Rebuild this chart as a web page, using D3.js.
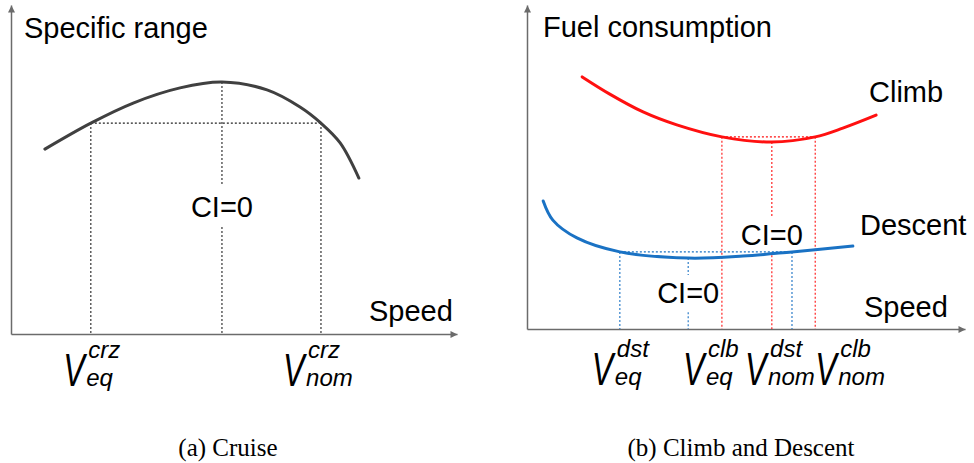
<!DOCTYPE html>
<html>
<head>
<meta charset="utf-8">
<script src="https://cdn.jsdelivr.net/npm/d3@7"></script>
<style>
  body { margin: 0; background: #fff; }
  text { font-family: "Liberation Sans", Arial, sans-serif; fill: #000; }
  .cap { font-family: "Liberation Serif", "Times New Roman", serif; }
</style>
</head>
<body>
<svg id="fig" width="974" height="463"></svg>
<script>
// ---- data (speed / value in arbitrary units 0..10) ----
const cruiseSpeed = [0.76, 1.79, 2.74, 3.79, 4.73, 5.74, 6.48, 6.95, 7.38, 7.80];
const cruiseRange = [5.62, 6.41, 7.02, 7.48, 7.66, 7.42, 6.90, 6.41, 5.81, 4.74];

const climbSpeed = [1.26, 1.89, 2.65, 3.42, 4.45, 5.59, 6.58, 7.21, 7.97];
const climbFuel  = [7.78, 7.25, 6.70, 6.30, 5.93, 5.77, 5.93, 6.20, 6.60];

const descentSpeed = [0.37, 0.59, 1.14, 2.12, 3.68, 4.93, 6.05, 7.44];
const descentFuel  = [3.95, 3.36, 2.81, 2.38, 2.19, 2.25, 2.38, 2.56];

// reference speeds: [V_eq, CI=0, V_nom] and the curve value at each
const cruiseRefSpeed  = [1.79, 4.73, 6.95];
const cruiseRefLevel  = [6.41, 7.66, 6.41];
const climbRefSpeed   = [4.45, 5.59, 6.58];
const climbRefLevel   = [5.93, 5.77, 5.93];
const descentRefSpeed = [2.12, 3.68, 6.05];
const descentRefLevel = [2.38, 2.19, 2.38];

// "CI=0" label: value of label centre, and gap cut in the dotted line
const cruiseCI  = {at: 3.86, gap: [3.25, 4.53]};
const climbCI   = {at: 2.90, gap: [2.28, 3.46]};
const descentCI = {at: 1.11, gap: [0.52, 1.67]};

// speed labels under the axes: [superscript, subscript, left edge speed]
const cruiseTicks = [["crz", "eq", 1.17], ["crz", "nom", 6.10]];
const climbDescentTicks = [["dst", "eq", 1.48], ["clb", "eq", 3.56], ["dst", "nom", 4.98], ["clb", "nom", 6.58]];

const captions = ["(a) Cruise", "(b) Climb and Descent"];

// ---- setup ----
const svg = d3.select("#fig");
const axisCol = "#6b6b6b";
const red = "#ff1010", blue = "#1a72c4";

svg.append("defs").append("marker")
    .attr("id", "arrow")
    .attr("markerUnits", "userSpaceOnUse")
    .attr("viewBox", "0 0 10 10")
    .attr("refX", 10).attr("refY", 5)
    .attr("markerWidth", 8).attr("markerHeight", 7)
    .attr("orient", "auto")
  .append("path")
    .attr("d", "M0,0 L10,5 L0,10 z")
    .attr("fill", axisCol);

const line = d3.line().curve(d3.curveCatmullRom.alpha(0.5));

function panel(xr, yr) {
  const x = d3.scaleLinear().domain([0, 10]).range(xr);
  const y = d3.scaleLinear().domain([0, 10]).range(yr);
  const g = svg.append("g");

  g.append("g")
    .attr("transform", `translate(0,${yr[0]})`)
    .call(d3.axisBottom(x).tickValues([]).tickSizeOuter(0))
    .select(".domain")
      .attr("stroke", axisCol).attr("stroke-width", 1.5)
      .attr("marker-end", "url(#arrow)");

  g.append("g")
    .attr("transform", `translate(${xr[0]},0)`)
    .call(d3.axisLeft(y).tickValues([]).tickSizeOuter(0))
    .select(".domain")
      .attr("stroke", axisCol).attr("stroke-width", 1.5)
      .attr("marker-end", "url(#arrow)");

  return {x, y, g};
}

function refLines(p, speeds, levels, ci, col) {
  const dot = (x1, y1, x2, y2) => p.g.append("line")
    .attr("x1", p.x(x1)).attr("y1", p.y(y1))
    .attr("x2", p.x(x2)).attr("y2", p.y(y2))
    .attr("stroke", col).attr("stroke-width", 1.1)
    .attr("stroke-dasharray", "2,2");

  dot(speeds[0], levels[0], speeds[2], levels[2]);
  dot(speeds[0], levels[0], speeds[0], 0);
  dot(speeds[2], levels[2], speeds[2], 0);
  // CI=0 line, cut around its label
  dot(speeds[1], levels[1], speeds[1], ci.gap[1]);
  dot(speeds[1], ci.gap[0], speeds[1], 0);

  p.g.append("text")
    .attr("x", p.x(speeds[1])).attr("y", p.y(ci.at))
    .attr("text-anchor", "middle").attr("dominant-baseline", "central")
    .attr("font-size", 29)
    .text("CI=0");
}

function curve(p, xs, ys, col) {
  p.g.append("path")
    .datum(xs.map((d, i) => [p.x(d), p.y(ys[i])]))
    .attr("d", line)
    .attr("fill", "none")
    .attr("stroke", col).attr("stroke-width", 3)
    .attr("stroke-linecap", "round");
}

// narrow italic V, then stacked super/subscript beside it
function speedLabels(p, ticks, base) {
  ticks.forEach(([sup, sub, s]) => {
    const x0 = p.x(s);
    p.g.append("text")
      .attr("transform", `translate(${x0},${base}) scale(0.7,1)`)
      .attr("font-size", 46).attr("font-style", "italic")
      .text("V");
    const t = p.g.append("text").attr("font-style", "italic").attr("font-size", 24);
    t.append("tspan").attr("x", x0 + 25).attr("y", base - 28).text(sup);
    t.append("tspan").attr("x", x0 + 23).attr("y", base).text(sub);
  });
}

// ---- (a) cruise ----
const left = panel([11, 457], [334, 5]);
refLines(left, cruiseRefSpeed, cruiseRefLevel, cruiseCI, "#222");
curve(left, cruiseSpeed, cruiseRange, "#404040");
left.g.append("text").attr("x", 24).attr("y", 38).attr("font-size", 29).text("Specific range");
left.g.append("text").attr("x", 369).attr("y", 321).attr("font-size", 29).text("Speed");
speedLabels(left, cruiseTicks, 386);

// ---- (b) climb and descent ----
const right = panel([527, 965], [329, 5]);
refLines(right, descentRefSpeed, descentRefLevel, descentCI, blue);
refLines(right, climbRefSpeed, climbRefLevel, climbCI, red);
curve(right, climbSpeed, climbFuel, red);
curve(right, descentSpeed, descentFuel, blue);
right.g.append("text").attr("x", 543).attr("y", 37).attr("font-size", 29).text("Fuel consumption");
right.g.append("text").attr("x", 869).attr("y", 102).attr("font-size", 29).text("Climb");
right.g.append("text").attr("x", 860).attr("y", 235).attr("font-size", 29).text("Descent");
right.g.append("text").attr("x", 864).attr("y", 317).attr("font-size", 29).text("Speed");
speedLabels(right, climbDescentTicks, 385);

// ---- captions ----
svg.selectAll("text.cap")
  .data(captions)
  .join("text")
    .attr("class", "cap")
    .attr("x", (d, i) => i === 0 ? 228 : 741)
    .attr("y", 456)
    .attr("text-anchor", "middle")
    .attr("font-size", 25)
    .text(d => d);
</script>
</body>
</html>
